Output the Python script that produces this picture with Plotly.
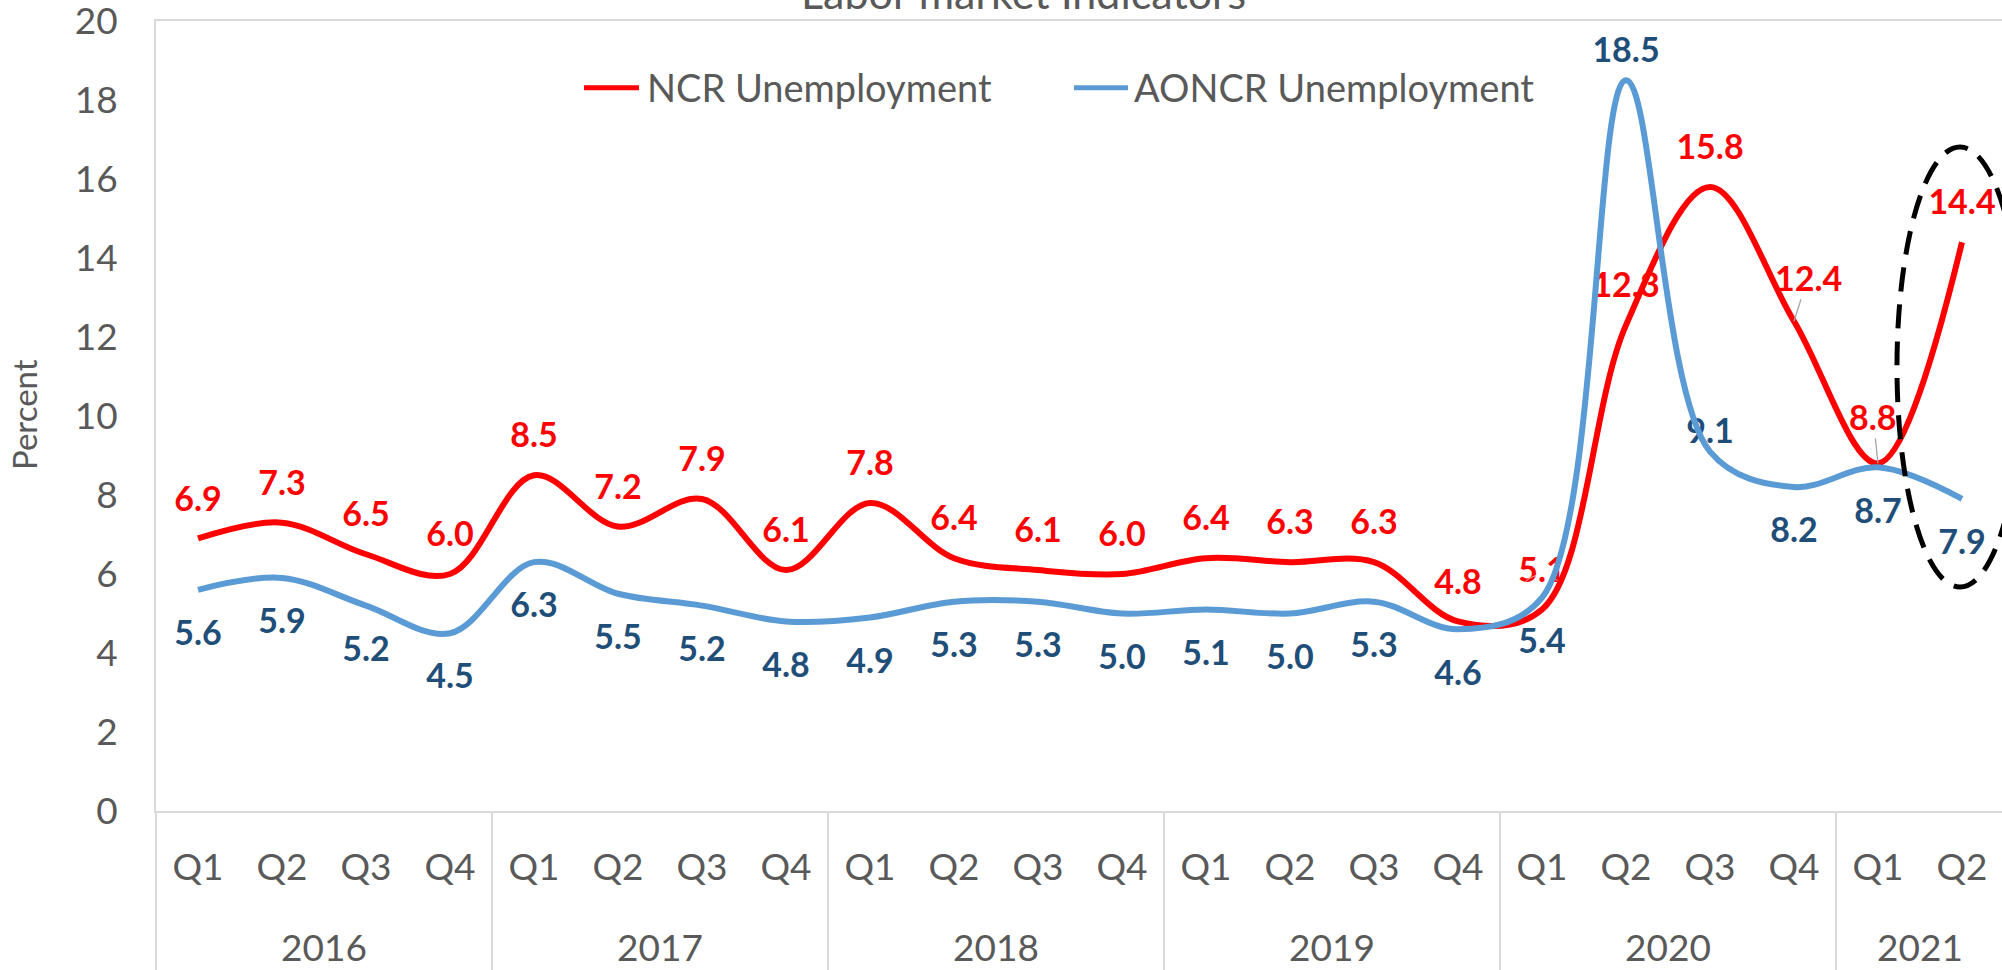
import plotly.graph_objects as go

# ---- data -------------------------------------------------------------
years = ["2016", "2017", "2018", "2019", "2020", "2021"]
quarters_in_year = [4, 4, 4, 4, 4, 2]
quarter_labels = ["Q1", "Q2", "Q3", "Q4"] * 5 + ["Q1", "Q2"]

ncr_unemployment = [6.9, 7.3, 6.5, 6.0, 8.5, 7.2, 7.9, 6.1, 7.8, 6.4, 6.1,
                    6.0, 6.4, 6.3, 6.3, 4.8, 5.1, 12.3, 15.8, 12.4, 8.8, 14.4]
aoncr_unemployment = [5.6, 5.9, 5.2, 4.5, 6.3, 5.5, 5.2, 4.8, 4.9, 5.3, 5.3,
                      5.0, 5.1, 5.0, 5.3, 4.6, 5.4, 18.5, 9.1, 8.2, 8.7, 7.9]

series_names = ["NCR Unemployment", "AONCR Unemployment"]
chart_title = "Labor market Indicators"
y_title = "Percent"

# ---- styling -----------------------------------------------------------
FONT = "Lato, 'Open Sans', sans-serif"
TEXT_GRAY = "#595959"
AXIS_GRAY = "#D9D9D9"
RED = "#FF0000"
BLUE = "#5B9BD5"
NAVY = "#1F4E79"

W, H = 2002, 970
M_L, M_R, M_T, M_B = 156, 0, 21, 159
SLOT = 84                      # horizontal pixels per quarter
plot_w = W - M_L - M_R
plot_h = H - M_T - M_B
x_range = [-0.5, -0.5 + plot_w / SLOT]

TICK_SIZE = 37
LEGEND_SIZE = 38
LABEL_SIZE = 34

n = len(quarter_labels)
x = list(range(n))


def px_x(px):
    return (px - M_L) / plot_w


def px_y(py):
    return (H - M_B - py) / plot_h


# data labels: NCR above the line, AONCR below; a few are nudged
ncr_pos = ["top center"] * n
ncr_gap = [40] * n
ncr_leader = {19: (14, -44), 20: (-5, -47)}   # labels drawn with a leader line

aoncr_pos = ["bottom center"] * n
aoncr_gap = [43] * n
aoncr_pos[17], aoncr_gap[17] = "top center", 30
aoncr_pos[18], aoncr_gap[18] = "top center", 18


def spacer_sizes(gaps, positions):
    # invisible marker size that pushes the label text to the wanted gap
    out = []
    for gap, pos in zip(gaps, positions):
        r = gap - (0.61 if pos.startswith("top") else 0.39) * LABEL_SIZE
        out.append(max(0.0, 1.6 * (r - 1)))
    return out


ncr_text = ["" if i in ncr_leader else f"{v:.1f}" for i, v in enumerate(ncr_unemployment)]
aoncr_text = [f"{v:.1f}" for v in aoncr_unemployment]

fig = go.Figure()

# value labels first so the lines run over them
fig.add_trace(go.Scatter(
    x=x, y=ncr_unemployment, mode="markers+text", text=ncr_text,
    textposition=ncr_pos,
    textfont=dict(family=FONT, size=LABEL_SIZE, color=RED, weight="bold"),
    marker=dict(size=spacer_sizes(ncr_gap, ncr_pos), color="rgba(0,0,0,0)"),
    showlegend=False, hoverinfo="skip", cliponaxis=False))
fig.add_trace(go.Scatter(
    x=x, y=aoncr_unemployment, mode="markers+text", text=aoncr_text,
    textposition=aoncr_pos,
    textfont=dict(family=FONT, size=LABEL_SIZE, color=NAVY, weight="bold"),
    marker=dict(size=spacer_sizes(aoncr_gap, aoncr_pos), color="rgba(0,0,0,0)"),
    showlegend=False, hoverinfo="skip", cliponaxis=False))

fig.add_trace(go.Scatter(
    x=x, y=ncr_unemployment, mode="lines", name=series_names[0],
    line=dict(color=RED, width=6, shape="spline", smoothing=1),
    showlegend=False))
fig.add_trace(go.Scatter(
    x=x, y=aoncr_unemployment, mode="lines", name=series_names[1],
    line=dict(color=BLUE, width=6, shape="spline", smoothing=1),
    showlegend=False))

annotations = []
shapes = []

# labels with leader lines
for i, (dx, dy) in ncr_leader.items():
    annotations.append(dict(
        x=i, y=ncr_unemployment[i], xref="x", yref="y",
        text=f"{ncr_unemployment[i]:.1f}", showarrow=True, arrowhead=0,
        arrowwidth=1.3, arrowcolor="#A6A6A6", ax=dx, ay=dy, standoff=0,
        font=dict(family=FONT, size=LABEL_SIZE, color=RED, weight="bold")))

# chart title (partly above the top edge)
annotations.append(dict(
    x=px_x(1023), y=1, xref="paper", yref="paper", xanchor="center",
    yanchor="middle", yshift=29, showarrow=False, text=chart_title,
    font=dict(family=FONT, size=43, color=TEXT_GRAY)))

# y axis title
annotations.append(dict(
    x=px_x(24), y=px_y(415), xref="paper", yref="paper", xanchor="center",
    yanchor="middle", textangle=-90, showarrow=False, text=y_title,
    font=dict(family=FONT, size=33, color=TEXT_GRAY)))

# legend
legend_items = [(584, 639, 645, RED), (1074, 1128, 1132, BLUE)]
for name, (lx0, lx1, tx, col) in zip(series_names, legend_items):
    shapes.append(dict(type="line", xref="paper", yref="paper",
                       x0=px_x(lx0), x1=px_x(lx1), y0=px_y(87.7), y1=px_y(87.7),
                       line=dict(color=col, width=5)))
    annotations.append(dict(
        x=px_x(tx), y=px_y(86.5), xref="paper", yref="paper",
        xanchor="left", yanchor="middle", showarrow=False, text=name,
        font=dict(family=FONT, size=LEGEND_SIZE, color=TEXT_GRAY)))

# year labels and group dividers under the quarter labels
start = 0
for yr, q in zip(years, quarters_in_year):
    annotations.append(dict(
        x=start + (q - 1) / 2, y=0, xref="x", yref="paper", yshift=-135,
        xanchor="center", yanchor="middle", showarrow=False, text=yr,
        font=dict(family=FONT, size=TICK_SIZE, color=TEXT_GRAY)))
    bx = (start - 0.5 - x_range[0]) / (x_range[1] - x_range[0])
    shapes.append(dict(type="line", xref="paper", yref="paper",
                       x0=bx, x1=bx, y0=0, y1=-(M_B + 5) / plot_h,
                       line=dict(color=AXIS_GRAY, width=2)))
    start += q

# dashed ellipse around the latest quarter
last = n - 1
lo = min(ncr_unemployment[last], aoncr_unemployment[last])
hi = max(ncr_unemployment[last], aoncr_unemployment[last])
shapes.append(dict(type="circle", xref="x", yref="y",
                   x0=last - 0.774, x1=last + 0.726, y0=lo - 2.23, y1=hi + 2.41,
                   line=dict(color="black", width=5, dash="24px,13px")))

fig.update_layout(
    width=W, height=H,
    margin=dict(l=M_L, r=M_R, t=M_T, b=M_B, pad=0),
    paper_bgcolor="white", plot_bgcolor="white",
    font=dict(family=FONT, color=TEXT_GRAY),
    showlegend=False,
    annotations=annotations,
    shapes=shapes,
    xaxis=dict(
        range=x_range, tickvals=x, ticktext=quarter_labels,
        showgrid=False, zeroline=False, ticks="",
        showline=True, linecolor=AXIS_GRAY, linewidth=2, mirror=True,
        tickfont=dict(family=FONT, size=TICK_SIZE, color=TEXT_GRAY),
        ticklabelstandoff=23, automargin=False, fixedrange=True),
    yaxis=dict(
        range=[0, 20], tickvals=list(range(0, 21, 2)),
        showgrid=False, zeroline=False, ticks="",
        showline=True, linecolor=AXIS_GRAY, linewidth=2,
        tickfont=dict(family=FONT, size=TICK_SIZE, color=TEXT_GRAY),
        ticklabelstandoff=29, ticklabeloverflow="allow",
        automargin=False, fixedrange=True),
)

fig.write_html("out.html", config={"displayModeBar": False})
